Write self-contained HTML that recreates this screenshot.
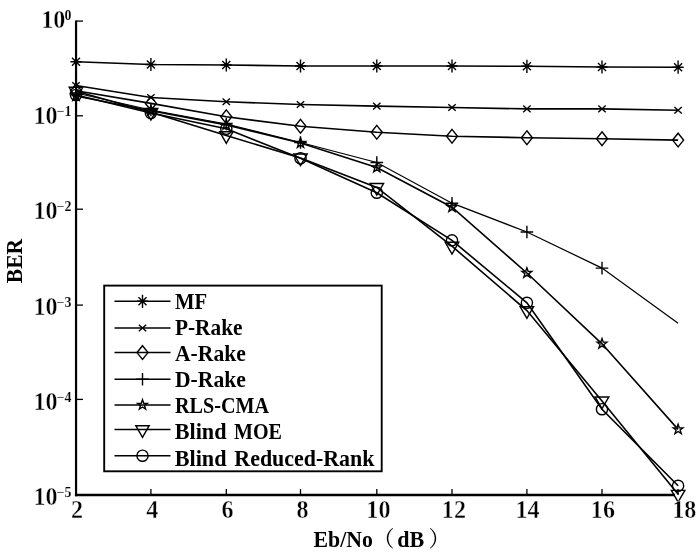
<!DOCTYPE html>
<html><head><meta charset="utf-8"><title>BER vs Eb/No</title>
<style>
html,body{margin:0;padding:0;background:#fff}
svg{display:block}
text{font-family:"Liberation Serif","Noto Serif CJK SC",serif;fill:#000}
.tk{font-size:24.6px;font-weight:bold;stroke:#fff;stroke-width:.4px}
.sup{font-size:13.9px;font-weight:bold;stroke:#fff;stroke-width:.12px}
.lg{font-size:22.3px;font-weight:bold}
.ax{font-size:22.6px;font-weight:bold}
.pr{font-size:22px}
</style></head><body>
<svg width="700" height="556" viewBox="0 0 700 556">
<rect width="700" height="556" fill="#fff"/>
<g stroke="#000" fill="none"><path d="M76.05 20.5V496.25" stroke-width="2.2"/><path d="M74.95 495H675" stroke-width="2.5"/></g>
<g stroke="#000" fill="none" stroke-width="1.3">
<path d="M76.0 21.1h7"/>
<path d="M76.0 115.8h7"/>
<path d="M76.0 209.2h7"/>
<path d="M76.0 305.1h7"/>
<path d="M76.0 399.4h7"/>
<path d="M150.9 495V489.1"/>
<path d="M226.3 495V489.1"/>
<path d="M300.5 495V489.1"/>
<path d="M376.8 495V489.1"/>
<path d="M452.0 495V489.1"/>
<path d="M526.9 495V489.1"/>
<path d="M602.0 495V489.1"/>
<path d="M678.1 495V489.1"/>
</g>
<g stroke="#000" fill="none" stroke-width="1.6" stroke-linejoin="miter">
<polyline points="76.0,61.8 150.9,64.5 226.3,65.0 300.5,66.0 376.8,66.0 452.0,66.0 526.9,66.3 602.0,67.0 678.1,67.2"/>
<g stroke-width="1.4">
<path d="M76.0 55.2V68.4M70.4 61.8H81.6M72.0 57.8L80.0 65.8M72.0 65.8L80.0 57.8"/>
<path d="M150.9 57.9V71.1M145.3 64.5H156.5M146.9 60.5L154.9 68.5M146.9 68.5L154.9 60.5"/>
<path d="M226.3 58.4V71.6M220.7 65.0H231.9M222.3 61.0L230.3 69.0M222.3 69.0L230.3 61.0"/>
<path d="M300.5 59.4V72.6M294.9 66.0H306.1M296.5 62.0L304.5 70.0M296.5 70.0L304.5 62.0"/>
<path d="M376.8 59.4V72.6M371.2 66.0H382.4M372.8 62.0L380.8 70.0M372.8 70.0L380.8 62.0"/>
<path d="M452.0 59.4V72.6M446.4 66.0H457.6M448.0 62.0L456.0 70.0M448.0 70.0L456.0 62.0"/>
<path d="M526.9 59.7V72.9M521.3 66.3H532.5M522.9 62.3L530.9 70.3M522.9 70.3L530.9 62.3"/>
<path d="M602.0 60.4V73.6M596.4 67.0H607.6M598.0 63.0L606.0 71.0M598.0 71.0L606.0 63.0"/>
<path d="M678.1 60.6V73.8M672.5 67.2H683.7M674.1 63.2L682.1 71.2M674.1 71.2L682.1 63.2"/>
</g>
<polyline points="76.0,85.5 150.9,97.5 226.3,101.8 300.5,104.5 376.8,106.1 452.0,107.5 526.9,108.9 602.0,108.9 678.1,110.3"/>
<g stroke-width="1.4">
<path d="M72.3 82.2L79.7 88.8M72.3 88.8L79.7 82.2"/>
<path d="M147.2 94.2L154.6 100.8M147.2 100.8L154.6 94.2"/>
<path d="M222.6 98.5L230.0 105.1M222.6 105.1L230.0 98.5"/>
<path d="M296.8 101.2L304.2 107.8M296.8 107.8L304.2 101.2"/>
<path d="M373.1 102.8L380.5 109.4M373.1 109.4L380.5 102.8"/>
<path d="M448.3 104.2L455.7 110.8M448.3 110.8L455.7 104.2"/>
<path d="M523.2 105.6L530.6 112.2M523.2 112.2L530.6 105.6"/>
<path d="M598.3 105.6L605.7 112.2M598.3 112.2L605.7 105.6"/>
<path d="M674.4 107.0L681.8 113.6M674.4 113.6L681.8 107.0"/>
</g>
<polyline points="76.0,90.8 150.9,103.4 226.3,116.8 300.5,126.3 376.8,132.3 452.0,136.3 526.9,137.7 602.0,138.7 678.1,140.1"/>
<g stroke-width="1.4">
<path d="M76.0 83.9L81.5 90.8L76.0 97.7L70.5 90.8Z"/>
<path d="M150.9 96.5L156.4 103.4L150.9 110.3L145.4 103.4Z"/>
<path d="M226.3 109.9L231.8 116.8L226.3 123.7L220.8 116.8Z"/>
<path d="M300.5 119.4L306.0 126.3L300.5 133.2L295.0 126.3Z"/>
<path d="M376.8 125.4L382.3 132.3L376.8 139.2L371.3 132.3Z"/>
<path d="M452.0 129.4L457.5 136.3L452.0 143.2L446.5 136.3Z"/>
<path d="M526.9 130.8L532.4 137.7L526.9 144.6L521.4 137.7Z"/>
<path d="M602.0 131.8L607.5 138.7L602.0 145.6L596.5 138.7Z"/>
<path d="M678.1 133.2L683.6 140.1L678.1 147.0L672.6 140.1Z"/>
</g>
<polyline points="76.0,93.0 150.9,110.0 226.3,124.0 300.5,142.5 376.8,162.5 452.0,203.2 526.9,232.0 602.0,268.1 678.1,323.2" stroke-width="1.25"/>
<g stroke-width="1.4">
<path d="M76.0 86.7V99.3M69.7 93.0H82.3"/>
<path d="M150.9 103.7V116.3M144.6 110.0H157.2"/>
<path d="M226.3 117.7V130.3M220.0 124.0H232.6"/>
<path d="M300.5 136.2V148.8M294.2 142.5H306.8"/>
<path d="M376.8 156.2V168.8M370.5 162.5H383.1"/>
<path d="M452.0 196.9V209.5M445.7 203.2H458.3"/>
<path d="M526.9 225.7V238.3M520.6 232.0H533.2"/>
<path d="M602.0 261.8V274.4M595.7 268.1H608.3"/>
</g>
<polyline points="76.0,96.0 150.9,110.8 226.3,124.9 300.5,143.0 376.8,167.6 452.0,207.2 526.9,273.0 602.0,343.8 678.1,429.4"/>
<g stroke-width="1.4">
<path d="M76.0 90.8L77.2 94.3L80.9 94.4L78.0 96.6L79.1 100.2L76.0 98.1L72.9 100.2L74.0 96.6L71.1 94.4L74.8 94.3Z"/>
<path d="M150.9 105.6L152.1 109.1L155.8 109.2L152.9 111.4L154.0 115.0L150.9 112.9L147.8 115.0L148.9 111.4L146.0 109.2L149.7 109.1Z"/>
<path d="M226.3 119.7L227.5 123.2L231.2 123.3L228.3 125.5L229.4 129.1L226.3 127.0L223.2 129.1L224.3 125.5L221.4 123.3L225.1 123.2Z"/>
<path d="M300.5 137.8L301.7 141.3L305.4 141.4L302.5 143.6L303.6 147.2L300.5 145.1L297.4 147.2L298.5 143.6L295.6 141.4L299.3 141.3Z"/>
<path d="M376.8 162.4L378.0 165.9L381.7 166.0L378.8 168.2L379.9 171.8L376.8 169.7L373.7 171.8L374.8 168.2L371.9 166.0L375.6 165.9Z"/>
<path d="M452.0 202.0L453.2 205.5L456.9 205.6L454.0 207.8L455.1 211.4L452.0 209.3L448.9 211.4L450.0 207.8L447.1 205.6L450.8 205.5Z"/>
<path d="M526.9 267.8L528.1 271.3L531.8 271.4L528.9 273.6L530.0 277.2L526.9 275.1L523.8 277.2L524.9 273.6L522.0 271.4L525.7 271.3Z"/>
<path d="M602.0 338.6L603.2 342.1L606.9 342.2L604.0 344.4L605.1 348.0L602.0 345.9L598.9 348.0L600.0 344.4L597.1 342.2L600.8 342.1Z"/>
<path d="M678.1 424.2L679.3 427.7L683.0 427.8L680.1 430.0L681.2 433.6L678.1 431.5L675.0 433.6L676.1 430.0L673.2 427.8L676.9 427.7Z"/>
</g>
<polyline points="76.0,91.2 150.9,112.3 226.3,135.6 300.5,157.9 376.8,187.4 452.0,246.2 526.9,310.6 602.0,400.9 678.1,494.3"/>
<g stroke-width="1.4">
<path d="M69.2 87.3H82.8L76.0 99.0Z"/>
<path d="M144.2 108.4H157.7L150.9 120.1Z"/>
<path d="M219.6 131.7H233.1L226.3 143.4Z"/>
<path d="M293.8 154.0H307.2L300.5 165.7Z"/>
<path d="M370.1 183.5H383.6L376.8 195.2Z"/>
<path d="M445.2 242.3H458.8L452.0 254.0Z"/>
<path d="M520.1 306.7H533.6L526.9 318.4Z"/>
<path d="M595.2 397.0H608.8L602.0 408.7Z"/>
<path d="M671.4 490.4H684.9L678.1 502.1Z"/>
</g>
<polyline points="76.0,95.0 150.9,113.0 226.3,128.8 300.5,158.3 376.8,192.7 452.0,240.4 526.9,302.8 602.0,409.2 678.1,485.8"/>
<g stroke-width="1.4">
<circle cx="76.0" cy="95.0" r="5.6"/>
<circle cx="150.9" cy="113.0" r="5.6"/>
<circle cx="226.3" cy="128.8" r="5.6"/>
<circle cx="300.5" cy="158.3" r="5.6"/>
<circle cx="376.8" cy="192.7" r="5.6"/>
<circle cx="452.0" cy="240.4" r="5.6"/>
<circle cx="526.9" cy="302.8" r="5.6"/>
<circle cx="602.0" cy="409.2" r="5.6"/>
<circle cx="678.1" cy="485.8" r="5.6"/>
</g>
</g>
<rect x="104.2" y="285.6" width="277.5" height="185.7" fill="#fff" stroke="#000" stroke-width="1.9"/>
<g stroke="#000" fill="none" stroke-width="1.6">
<path d="M114.5 301.3H170.5" stroke-width="1.5"/>
<path d="M142.5 294.7V307.9M136.9 301.3H148.1M138.5 297.3L146.5 305.3M138.5 305.3L146.5 297.3" stroke-width="1.4"/>
<path d="M114.5 328H170.5" stroke-width="1.5"/>
<path d="M138.8 324.7L146.2 331.3M138.8 331.3L146.2 324.7" stroke-width="1.4"/>
<path d="M114.5 352.6H170.5" stroke-width="1.5"/>
<path d="M142.5 345.7L148.0 352.6L142.5 359.5L137.0 352.6Z" stroke-width="1.4"/>
<path d="M114.5 379.2H170.5" stroke-width="1.5"/>
<path d="M142.5 372.9V385.5M136.2 379.2H148.8" stroke-width="1.4"/>
<path d="M114.5 404.9H170.5" stroke-width="1.5"/>
<path d="M142.5 399.7L143.7 403.2L147.4 403.3L144.5 405.5L145.6 409.1L142.5 407.0L139.4 409.1L140.5 405.5L137.6 403.3L141.3 403.2Z" stroke-width="1.4"/>
<path d="M114.5 429.6H170.5" stroke-width="1.5"/>
<path d="M135.8 425.7H149.2L142.5 437.4Z" stroke-width="1.4"/>
<path d="M114.5 455.7H170.5" stroke-width="1.5"/>
<circle cx="142.5" cy="455.7" r="5.6" stroke-width="1.4"/>
</g>
<text class="lg" x="175" y="308.75" textLength="32.2" lengthAdjust="spacingAndGlyphs">MF</text>
<text class="lg" x="175" y="335" textLength="67.5" lengthAdjust="spacingAndGlyphs">P-Rake</text>
<text class="lg" x="175" y="360.5" textLength="70.8" lengthAdjust="spacingAndGlyphs">A-Rake</text>
<text class="lg" x="175" y="387" textLength="70.8" lengthAdjust="spacingAndGlyphs">D-Rake</text>
<text class="lg" x="175" y="413" textLength="94.0" lengthAdjust="spacingAndGlyphs">RLS-CMA</text>
<text class="lg" x="174.8" y="439" textLength="51.7" lengthAdjust="spacingAndGlyphs">Blind</text>
<text class="lg" x="234" y="439" textLength="48.0" lengthAdjust="spacingAndGlyphs">MOE</text>
<text class="lg" x="174.8" y="465.6" textLength="51.7" lengthAdjust="spacingAndGlyphs">Blind</text>
<text class="lg" x="234.3" y="465.6" textLength="140.2" lengthAdjust="spacingAndGlyphs">Reduced-Rank</text>
<text class="tk" transform="translate(53.2 28.1) scale(0.98 1)" text-anchor="middle">10</text>
<text class="sup" transform="translate(64.6 20.1) scale(1.0 1)" text-anchor="start">0</text>
<text class="tk" transform="translate(45.5 123.6) scale(0.98 1)" text-anchor="middle">10</text>
<text class="sup" transform="translate(56.6 115.6) scale(1.0 1)" text-anchor="start">−1</text>
<text class="tk" transform="translate(45.5 219.0) scale(0.98 1)" text-anchor="middle">10</text>
<text class="sup" transform="translate(56.6 211.0) scale(1.0 1)" text-anchor="start">−2</text>
<text class="tk" transform="translate(45.5 314.5) scale(0.98 1)" text-anchor="middle">10</text>
<text class="sup" transform="translate(56.6 306.5) scale(1.0 1)" text-anchor="start">−3</text>
<text class="tk" transform="translate(45.5 409.9) scale(0.98 1)" text-anchor="middle">10</text>
<text class="sup" transform="translate(56.6 401.9) scale(1.0 1)" text-anchor="start">−4</text>
<text class="tk" transform="translate(45.5 505.4) scale(0.98 1)" text-anchor="middle">10</text>
<text class="sup" transform="translate(56.6 497.4) scale(1.0 1)" text-anchor="start">−5</text>
<text class="tk" transform="translate(77.0 517.7) scale(0.98 1)" text-anchor="middle">2</text>
<text class="tk" transform="translate(152.3 517.7) scale(0.98 1)" text-anchor="middle">4</text>
<text class="tk" transform="translate(227.6 517.7) scale(0.98 1)" text-anchor="middle">6</text>
<text class="tk" transform="translate(302.5 517.7) scale(0.98 1)" text-anchor="middle">8</text>
<text class="tk" transform="translate(378.4 517.7) scale(0.98 1)" text-anchor="middle">10</text>
<text class="tk" transform="translate(453.9 517.7) scale(0.98 1)" text-anchor="middle">12</text>
<text class="tk" transform="translate(527.6 517.7) scale(0.98 1)" text-anchor="middle">14</text>
<text class="tk" transform="translate(602.9 517.7) scale(0.98 1)" text-anchor="middle">16</text>
<text class="tk" transform="translate(684.3 517.7) scale(0.98 1)" text-anchor="middle">18</text>
<text class="ax" x="313.5" y="546.5" textLength="59.3" lengthAdjust="spacingAndGlyphs">Eb/No</text>
<text class="pr" x="372.5" y="546.4">（</text>
<text class="ax" x="397.3" y="546.5" textLength="27" lengthAdjust="spacingAndGlyphs">dB</text>
<text class="pr" x="428.5" y="546.4">）</text>
<text class="ax" style="font-size:23px" transform="translate(21.8 261) rotate(-90)" text-anchor="middle" textLength="44.3" lengthAdjust="spacingAndGlyphs">BER</text>
</svg></body></html>
